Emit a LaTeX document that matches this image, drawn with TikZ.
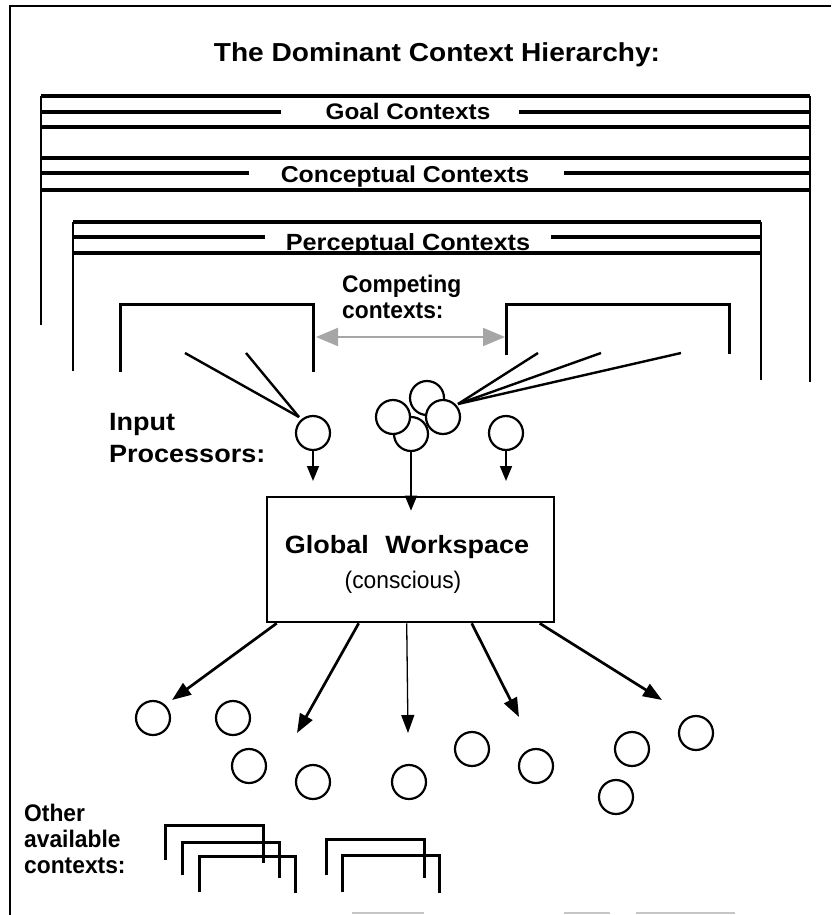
\documentclass[tikz,border=0pt]{standalone}
\usepackage{fontspec}
\setmainfont{Liberation Sans}
\newfontface\chic{Liberation Sans Bold}[FakeStretch=1.08]
\newfontface\helvb{Liberation Sans Bold}[FakeStretch=0.95]
\newfontface\helvr{Liberation Sans}[FakeStretch=0.95]
\usetikzlibrary{arrows.meta,calc}
\begin{document}
\begin{tikzpicture}[x=1pt,y=-1pt,
  hline/.style={line width=3.2pt},
  vline/.style={line width=2.4pt},
  frameline/.style={line width=2pt},
  proc/.style={circle,draw,fill=white,line width=2.2pt,minimum size=34pt,inner sep=0pt},
  ctx/.style={line width=3pt},
  bigarr/.style={line width=2.7pt,-{Triangle[length=19pt,width=14pt]}},
  smallarr/.style={line width=1.6pt,-{Triangle[length=15pt,width=12pt]}},
  thinarr/.style={line width=1.3pt,-{Triangle[length=18pt,width=13pt]}},
  chiclbl/.style={inner sep=0pt,font=\chic\fontsize{#1}{#1}\selectfont},
  helvlbl/.style={inner sep=0pt,font=\helvb\fontsize{24}{24}\selectfont},
  helvreg/.style={inner sep=0pt,font=\helvr\fontsize{24}{24}\selectfont}
]
\useasboundingbox (0,0) rectangle (831,915);

% outer frame
\draw[frameline] (831,6) -- (10,6) -- (10,915);
\draw[gray!45,line width=1.5pt] (352,913) -- (424,913);
\draw[gray!45,line width=1.5pt] (564,913) -- (610,913);
\draw[gray!45,line width=1.5pt] (636,913) -- (735,913);

% goal and conceptual contexts
\draw[hline] (41,96) -- (810,96);
\draw[hline] (41,127) -- (810,127);
\draw[hline] (41,158) -- (810,158);
\draw[hline] (41,190) -- (810,190);
\draw[hline] (41,112) -- (281,112);
\draw[hline] (519,112) -- (810,112);
\draw[hline] (41,173) -- (249,173);
\draw[hline] (564,173) -- (810,173);
\draw[vline] (41,96) -- (41,325);
\draw[vline] (810,96) -- (810,382);

% perceptual contexts
\draw[hline] (73,222) -- (761,222);
\draw[hline] (73,253) -- (761,253);
\draw[hline] (73,237) -- (265,237);
\draw[hline] (551,237) -- (761,237);
\draw[vline] (73,222) -- (73,371);
\draw[vline] (761,222) -- (761,380);

% competing contexts
\draw[ctx] (120,372) -- (120,304) -- (313,304) -- (313,372);
\draw[ctx] (506,355) -- (506,304) -- (729,304) -- (729,354);
\coordinate (dl) at (316,337);
\coordinate (dr) at (505,337);
\draw[gray!70,line width=2pt,{Triangle[length=22pt,width=18pt]}-{Triangle[length=22pt,width=18pt]}] (dl) -- (dr);

% labels
\node[chiclbl=26,anchor=base] (title) at (437,62) {The Dominant Context Hierarchy:};
\node[chiclbl=22.5,anchor=base] (goal) at (408,120) {Goal Contexts};
\node[chiclbl=23,anchor=base] (concept) at (405,182) {Conceptual Contexts};
\node[chiclbl=23.4,anchor=base] (percept) at (408,250) {Perceptual Contexts};
\node[helvlbl,anchor=base west] (comp1) at (342,292) {Competing};
\node[helvlbl,anchor=base west] (comp2) at (342,318) {contexts:};
\node[chiclbl=25,anchor=base west] (inp1) at (109,430) {Input};
\node[chiclbl=25,anchor=base west] (inp2) at (109,462) {Processors:};
\node[helvlbl,anchor=base west] (oth1) at (24,821) {Other};
\node[helvlbl,anchor=base west] (oth2) at (24,847) {available};
\node[helvlbl,anchor=base west] (oth3) at (24,873) {contexts:};

% input lines
\coordinate (lj) at (299,417);
\coordinate (l1) at (185,353);
\coordinate (l2) at (246,353);
\draw[vline] (l1) -- (lj);
\draw[vline] (l2) -- (lj);
\coordinate (rj) at (458,404);
\coordinate (r1) at (538,353);
\coordinate (r2) at (601,353);
\coordinate (r3) at (681,353);
\draw[vline] (r1) -- (rj);
\draw[vline] (r2) -- (rj);
\draw[vline] (r3) -- (rj);

% global workspace
\node[draw,line width=2.6pt,minimum width=287pt,minimum height=125pt,inner sep=0pt] (gw) at (410.5,559.5) {};
\node[chiclbl=25,anchor=base] (gwt) at (407,553) {Global\hspace{9pt} Workspace};
\node[helvreg,anchor=base] (gwc) at (403,588) {(conscious)};

% input processors
\node[proc] (ip1) at (313,433) {};
\node[proc] (cl2) at (411,434) {};
\node[proc] (cl3) at (427,398) {};
\node[proc] (cl1) at (393,417) {};
\node[proc] (cl4) at (443,417) {};
\node[proc] (ip3) at (506,433) {};
\coordinate (ip1t) at (313,481);
\coordinate (ip3t) at (506,481);
\draw[smallarr] (ip1) -- (ip1t);
\draw[smallarr] (ip3) -- (ip3t);
\draw[smallarr] (cl2) -- ($(cl2 |- gw.north)+(0,15)$);

% output
\coordinate (o1) at (172,700);
\coordinate (o2) at (297,733);
\coordinate (o3) at (408,733);
\coordinate (o4) at (519,717);
\coordinate (o5) at (662,700);
\draw[bigarr] ([xshift=11pt]gw.south west) -- (o1);
\draw[bigarr] ([xshift=93pt]gw.south west) -- (o2);
\draw[thinarr] ([xshift=141pt]gw.south west) -- (o3);
\draw[bigarr] ([xshift=206pt]gw.south west) -- (o4);
\draw[bigarr] ([xshift=274pt]gw.south west) -- (o5);

% receiving processors
\node[proc] (b1) at (153,718) {};
\node[proc] (b2) at (233,718) {};
\node[proc] (b3) at (249,766) {};
\node[proc] (b4) at (313,782) {};
\node[proc] (b5) at (409,782) {};
\node[proc] (b6) at (472,749) {};
\node[proc] (b7) at (536,766) {};
\node[proc] (b8) at (632,749) {};
\node[proc] (b9) at (696,733) {};
\node[proc] (b10) at (616,797) {};

% other available contexts
\draw[ctx] (165,860) -- (165,825) -- (263,825) -- (263,863);
\draw[ctx] (182,875) -- (182,842) -- (279,842) -- (279,878);
\draw[ctx] (199,892) -- (199,856) -- (295,856) -- (295,893);
\draw[ctx] (326,875) -- (326,839) -- (424,839) -- (424,878);
\draw[ctx] (342,892) -- (342,855) -- (439,855) -- (439,893);
\end{tikzpicture}
\end{document}
